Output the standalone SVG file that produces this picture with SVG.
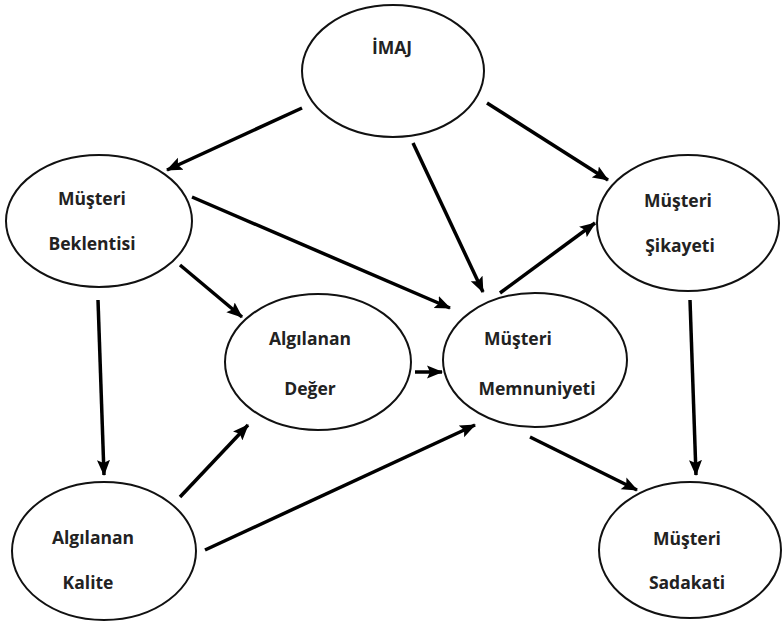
<svg xmlns="http://www.w3.org/2000/svg" width="782" height="623" viewBox="0 0 782 623">
<style>
.n{fill:#fff;stroke:#111;stroke-width:2}
.t{font-family:"Open Sans","Liberation Sans",sans-serif;font-weight:bold;font-size:17.5px;fill:#222;text-anchor:middle}
.c line{stroke:#000;stroke-width:3.5;marker-end:url(#ah)}
</style>
<defs>
<marker id="ah" markerUnits="userSpaceOnUse" markerWidth="16" markerHeight="14" refX="15" refY="6.5" orient="auto" viewBox="0 0 16 13">
<path d="M0,0 L16,6.5 L0,13 L3,6.5 z" fill="#000"/>
</marker>
</defs>
<rect width="782" height="623" fill="#fff"/>
<g id="imaj"><ellipse class="n" cx="393" cy="71" rx="91" ry="66"/><text class="t" x="392" y="54">İMAJ</text></g>
<g id="beklenti"><ellipse class="n" cx="99" cy="221" rx="93" ry="66"/><text class="t" x="92" y="205">Müşteri</text><text class="t" x="92" y="250">Beklentisi</text></g>
<g id="deger"><ellipse class="n" cx="318" cy="362" rx="93" ry="68"/><text class="t" x="310" y="345">Algılanan</text><text class="t" x="310" y="395">Değer</text></g>
<g id="memnuniyet"><ellipse class="n" cx="535" cy="360" rx="92" ry="67"/><text class="t" x="518" y="345">Müşteri</text><text class="t" x="537" y="395">Memnuniyeti</text></g>
<g id="sikayet"><ellipse class="n" cx="688" cy="223" rx="91" ry="68"/><text class="t" x="678" y="207">Müşteri</text><text class="t" x="680" y="252">Şikayeti</text></g>
<g id="kalite"><ellipse class="n" cx="104" cy="551" rx="92" ry="69"/><text class="t" x="93" y="544">Algılanan</text><text class="t" x="88" y="589">Kalite</text></g>
<g id="sadakat"><ellipse class="n" cx="690" cy="550" rx="91" ry="68"/><text class="t" x="687" y="545">Müşteri</text><text class="t" x="687" y="589">Sadakati</text></g>
<g class="c" id="connectors">
<line x1="302" y1="108" x2="167" y2="170"/>
<line x1="487" y1="103" x2="608" y2="180"/>
<line x1="413" y1="143" x2="483" y2="292"/>
<line x1="500" y1="293" x2="595" y2="223"/>
<line x1="192" y1="197" x2="450" y2="308"/>
<line x1="180" y1="265" x2="242" y2="317"/>
<line x1="98" y1="300" x2="104" y2="475"/>
<line x1="180" y1="497" x2="248" y2="425"/>
<line x1="205" y1="550" x2="475" y2="425"/>
<line x1="415" y1="372" x2="442" y2="372"/>
<line x1="690" y1="300" x2="696" y2="475"/>
<line x1="530" y1="437" x2="637" y2="490"/>
</g>
</svg>
